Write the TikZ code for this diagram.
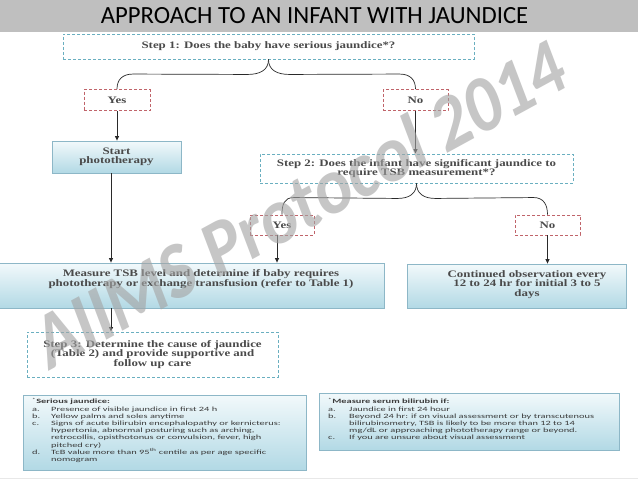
\documentclass[tikz,border=0pt]{standalone}
\usepackage{fontspec}
\setmainfont{Liberation Serif}
\newfontfamily\diagfont[FakeStretch=1.3]{Liberation Serif}
\newfontfamily\notefont[FakeStretch=1.6]{Carlito}
\newfontfamily\titlefont{Carlito}
\usetikzlibrary{arrows.meta,shadows,calc}
\definecolor{barGray}{HTML}{BFBFBF}
\definecolor{stepDash}{HTML}{6AAFC0}
\definecolor{ynDash}{HTML}{C0646A}
\definecolor{boxTop}{HTML}{F2F9FB}
\definecolor{boxBot}{HTML}{B2D9E5}
\definecolor{boxEdge}{HTML}{8DB7C7}
\definecolor{txtGray}{HTML}{4A4A4A}
\definecolor{noteTxt}{HTML}{3A3A3A}
\definecolor{lineGray}{HTML}{2A2A2A}
\definecolor{wmGray}{HTML}{A4A4A4}
\begin{document}
\begin{tikzpicture}[x=1pt,y=-1pt,
  dtext/.style={font=\diagfont\bfseries\fontsize{9.9}{9.5}\selectfont, text=txtGray, align=center},
  stepbox/.style={draw=stepDash, dash pattern=on 3pt off 2pt, line width=0.9pt, fill=white, inner sep=0pt, dtext},
  ynbox/.style={draw=ynDash, dash pattern=on 3pt off 2pt, line width=0.9pt, fill=white, inner sep=0pt, dtext},
  gradbox/.style={draw=boxEdge, line width=0.8pt, top color=boxTop, bottom color=boxBot, inner sep=0pt,
    drop shadow={shadow xshift=0.8pt, shadow yshift=-0.8pt, opacity=0.25}},
  notetext/.style={font=\notefont\fontsize{6.5}{7.2}\selectfont, text=noteTxt, align=left, inner sep=0pt},
  arr/.style={draw=lineGray, line width=0.8pt, -{Triangle[length=4.5pt,width=4pt]}},
  bracel/.style={draw=lineGray, line width=0.7pt},
  wmark/.style={font=\titlefont\bfseries\fontsize{68}{68}\selectfont, text=wmGray, opacity=0.62},
]
\useasboundingbox (0,0) rectangle (638,479);
\fill[white] (0,0) rectangle (638,479);
\fill[barGray] (0,0) rectangle (638,32);
\fill[black!9] (0,477.5) rectangle (638,479);
\node[font=\titlefont\fontsize{24.7}{26}\selectfont, text=black] (title) at (314.5,16) {APPROACH TO AN INFANT WITH JAUNDICE};

% boxes
\node[stepbox, minimum width=411pt, minimum height=25pt] (s1) at (268.5,46.5) {Step 1: Does the baby have serious jaundice*?};
\node[ynbox, minimum width=66pt, minimum height=21pt] (y1) at (117,100) {Yes};
\node[ynbox, minimum width=65pt, minimum height=21pt] (n1) at (415.5,100) {No};
\node[gradbox, dtext, minimum width=129pt, minimum height=32pt] (start) at (116.5,157) {Start\\phototherapy};
\node[stepbox, minimum width=313pt, minimum height=29pt] (s2) at (416.5,168.5) {Step 2: Does the infant have significant jaundice to\\require TSB measurement*?};
\node[ynbox, minimum width=64pt, minimum height=20pt] (y2) at (282,225) {Yes};
\node[ynbox, minimum width=65pt, minimum height=20pt] (n2) at (547.5,225) {No};
\node[gradbox, minimum width=388pt, minimum height=45pt] (meas) at (190,285.5) {};
\node[dtext] (meastxt) at (201,279) {Measure TSB level and determine if baby requires\\phototherapy or exchange transfusion (refer to Table 1)};
\node[gradbox, minimum width=219pt, minimum height=44pt] (cont) at (516.5,286) {};
\node[dtext] (conttxt) at (527,284.5) {Continued observation every\\12 to 24 hr for initial 3 to 5\\days};
\node[stepbox, minimum width=251pt, minimum height=45pt] (s3) at (152.5,354.5) {Step 3: Determine the cause of jaundice\\(Table 2) and provide supportive and\\follow up care};

% notes
\node[gradbox, minimum width=283pt, minimum height=75pt] (note1) at (164.5,432.5) {};
\node[notetext, anchor=north west] (note1txt) at (32,398) {\textsuperscript{*}\textbf{Serious jaundice:}\\
\makebox[19pt][l]{a.}Presence of visible jaundice in first 24 h\\
\makebox[19pt][l]{b.}Yellow palms and soles anytime\\
\makebox[19pt][l]{c.}Signs of acute bilirubin encephalopathy or kernicterus:\\
\hspace*{19pt}hypertonia, abnormal posturing such as arching,\\
\hspace*{19pt}retrocollis, opisthotonus or convulsion, fever, high\\
\hspace*{19pt}pitched cry)\\
\makebox[19pt][l]{d.}TcB value more than 95\textsuperscript{th} centile as per age specific\\
\hspace*{19pt}nomogram};
\node[gradbox, minimum width=300pt, minimum height=57pt] (note2) at (469,421.5) {};
\node[notetext, anchor=north west] (note2txt) at (328,398) {\textsuperscript{*}\textbf{Measure serum bilirubin if:}\\
\makebox[21pt][l]{a.}Jaundice in first 24 hour\\
\makebox[21pt][l]{b.}Beyond 24 hr: if on visual assessment or by transcutenous\\
\hspace*{21pt}bilirubinometry, TSB is likely to be more than 12 to 14\\
\hspace*{21pt}mg/dL or approaching phototherapy range or beyond.\\
\makebox[21pt][l]{c.}If you are unsure about visual assessment};

% braces
\draw[bracel] (s1.south) .. controls +(0,11) and +(12,0) .. ++(-21,15) -- ($(y1.north)+(16,-15)$) .. controls +(-11,0) and +(0,-9) .. (y1.north);
\draw[bracel] (s1.south) .. controls +(0,11) and +(-12,0) .. ++(21,15) -- ($(n1.north)+(-16,-15)$) .. controls +(11,0) and +(0,-9) .. (n1.north);
\draw[bracel] (s2.south) .. controls +(0,10) and +(12,0) .. ++(-19,15) -- ($(y2.north)+(12,-17)$) .. controls +(-10,0) and +(0,-10) .. (y2.north);
\draw[bracel] (s2.south) .. controls +(0,10) and +(-12,0) .. ++(19,15) -- ($(n2.north)+(-14,-17)$) .. controls +(10,0) and +(0,-10) .. (n2.north);

% arrows
\coordinate (cA) at (111,0);
\coordinate (cB) at (277,0);
\draw[arr] (y1.south) -- (y1.south |- start.north);
\draw[arr] (n1.south) -- (n1.south |- s2.north);
\draw[arr] (start.south -| cA) -- (meas.north -| cA);
\draw[arr] (y2.south -| cB) -- (meas.north -| cB);
\draw[arr] (n2.south) -- (n2.south |- cont.north);
\draw[arr] (meas.south -| cA) -- (s3.north -| cA);

% watermark
\node[wmark, yscale=1.2, rotate=24.5, transform shape] (wm) at (300,203) {AIIMS Protocol 2014};
\end{tikzpicture}
\end{document}
